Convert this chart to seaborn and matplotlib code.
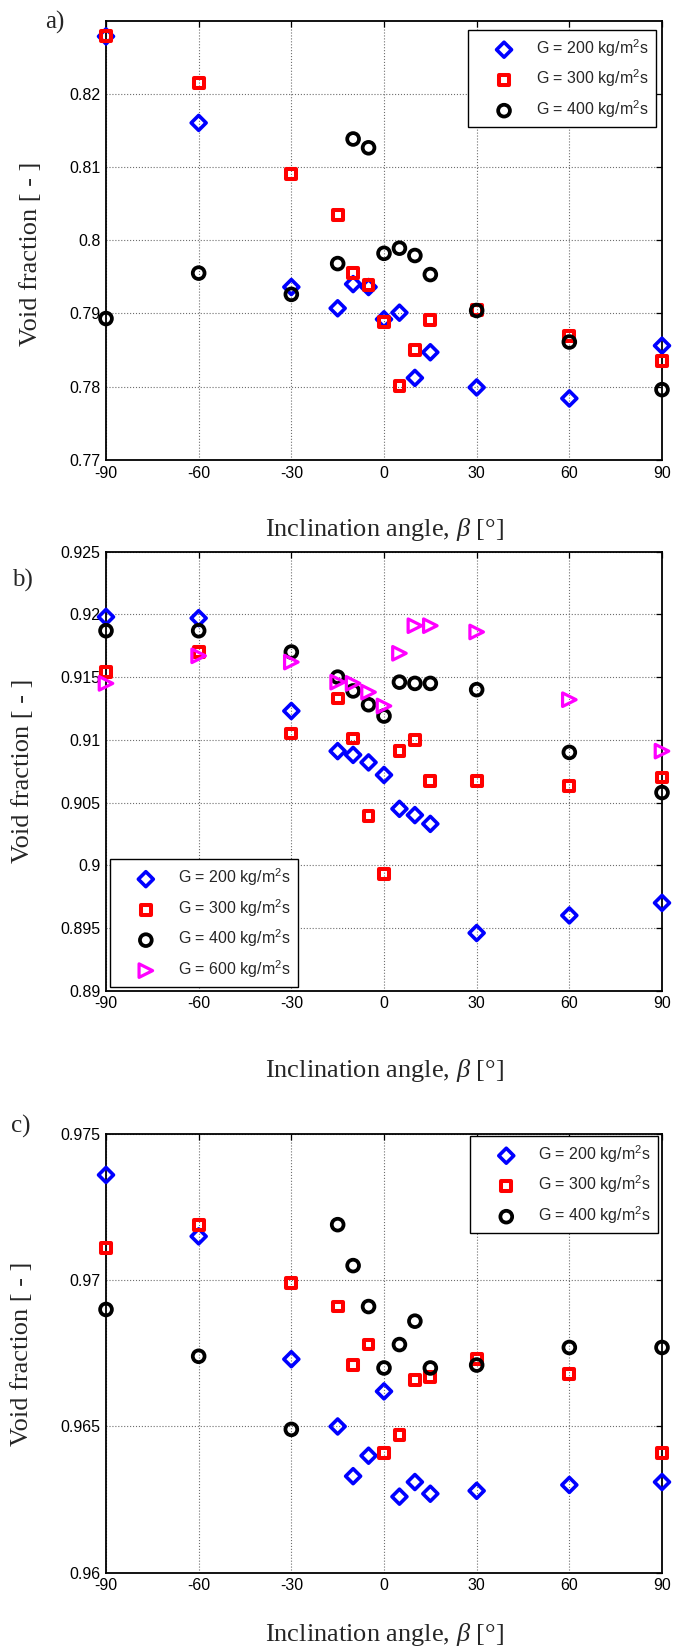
import matplotlib
matplotlib.use("Agg")
import matplotlib.pyplot as plt
import seaborn as sns
import pandas as pd

# ---------------- data ----------------
angles = [-90, -60, -30, -15, -10, -5, 0, 5, 10, 15, 30, 60, 90]

a_g200 = [0.8278, 0.8160, 0.7936, 0.7907, 0.7940, 0.7936, 0.7892, 0.7901, 0.7812, 0.7847, 0.7799, 0.7784, 0.7856]
a_g300 = [0.8278, 0.8214, 0.8090, 0.8034, 0.7955, 0.7939, 0.7888, 0.7801, 0.7850, 0.7891, 0.7905, 0.7869, 0.7835]
a_g400 = [0.7893, 0.7955, 0.7926, 0.7968, 0.8138, 0.8126, 0.7982, 0.7989, 0.7979, 0.7953, 0.7904, 0.7861, 0.7796]

b_g200 = [0.9198, 0.9197, 0.9123, 0.9091, 0.9088, 0.9082, 0.9072, 0.9045, 0.9040, 0.9033, 0.8946, 0.8960, 0.8970]
b_g300 = [0.9154, 0.9170, 0.9105, 0.9133, 0.9101, 0.9039, 0.8993, 0.9091, 0.9100, 0.9067, 0.9067, 0.9063, 0.9070]
b_g400 = [0.9187, 0.9187, 0.9170, 0.9150, 0.9139, 0.9128, 0.9119, 0.9146, 0.9145, 0.9145, 0.9140, 0.9090, 0.9058]
b_g600 = [0.9145, 0.9167, 0.9162, 0.9146, 0.9145, 0.9138, 0.9127, 0.9169, 0.9191, 0.9191, 0.9186, 0.9132, 0.9091]

c_g200 = [0.9736, 0.9715, 0.9673, 0.9650, 0.9633, 0.9640, 0.9662, 0.9626, 0.9631, 0.9627, 0.9628, 0.9630, 0.9631]
c_g300 = [0.9711, 0.9719, 0.9699, 0.9691, 0.9671, 0.9678, 0.9641, 0.9647, 0.9666, 0.9667, 0.9673, 0.9668, 0.9641]
c_g400 = [0.9690, 0.9674, 0.9649, 0.9719, 0.9705, 0.9691, 0.9670, 0.9678, 0.9686, 0.9670, 0.9671, 0.9677, 0.9677]

series_labels = ["G = 200 kg/m$^2$s", "G = 300 kg/m$^2$s", "G = 400 kg/m$^2$s", "G = 600 kg/m$^2$s"]

xticks = [-90, -60, -30, 0, 30, 60, 90]
xtick_labels = ["-90", "-60", "-30", "0", "30", "60", "90"]

a_yticks = [0.77, 0.78, 0.79, 0.80, 0.81, 0.82]
a_ylabels = ["0.77", "0.78", "0.79", "0.8", "0.81", "0.82"]
b_yticks = [0.89, 0.895, 0.90, 0.905, 0.91, 0.915, 0.92, 0.925]
b_ylabels = ["0.89", "0.895", "0.9", "0.905", "0.91", "0.915", "0.92", "0.925"]
c_yticks = [0.96, 0.965, 0.97, 0.975]
c_ylabels = ["0.96", "0.965", "0.97", "0.975"]

panel_letters = ["a)", "b)", "c)"]
xlabel_text = r"Inclination angle, $\mathit{\beta}$ [°]"
ylabel_text = "Void fraction [ - ]"

# ---------------- style ----------------
sns.set_style("white")
plt.rcParams["font.family"] = ["Liberation Sans", "DejaVu Sans"]
plt.rcParams["mathtext.fontset"] = "custom"
plt.rcParams["mathtext.rm"] = "Liberation Sans"
plt.rcParams["mathtext.it"] = "Liberation Serif:italic"
plt.rcParams["mathtext.default"] = "rm"

SERIF = ["Liberation Serif", "DejaVu Serif"]

styles = [
    dict(marker="D", color="#0000FF", s=58, lw=2.6),
    dict(marker="s", color="#FF0000", s=50, lw=2.9),
    dict(marker="o", color="#000000", s=72, lw=2.7),
    dict(marker=">", color="#FF00FF", s=95, lw=2.3),
]

fig = plt.figure(figsize=(6.73, 16.52), dpi=100)
W, H = 673.0, 1652.0

def axes_rect(left, right, top, bottom):
    return [left / W, (H - bottom) / H, (right - left) / W, (bottom - top) / H]

panels = [
    dict(rect=axes_rect(106, 662, 21, 460), series=[a_g200, a_g300, a_g400],
         ylim=(0.77, 0.8299), yticks=a_yticks, ylabels=a_ylabels,
         legend=dict(loc="upper right", bbox_to_anchor=(0.989, 0.9795)),
         letter_xy=(55, 22), ylab_x=-0.134, ylab_y=0.47, xlab_y=-0.159),
    dict(rect=axes_rect(106, 662, 551.7, 990.7), series=[b_g200, b_g300, b_g400, b_g600],
         ylim=(0.89, 0.925), yticks=b_yticks, ylabels=b_ylabels,
         legend=dict(loc="lower left", bbox_to_anchor=(0.007, 0.0084)),
         letter_xy=(22, 580), ylab_x=-0.15, ylab_y=0.5, xlab_y=-0.181),
    dict(rect=axes_rect(106, 662, 1134, 1572.7), series=[c_g200, c_g300, c_g400],
         ylim=(0.96, 0.975), yticks=c_yticks, ylabels=c_ylabels,
         legend=dict(loc="upper right", bbox_to_anchor=(0.993, 0.9954)),
         letter_xy=(21, 1126), ylab_x=-0.151, ylab_y=0.5, xlab_y=-0.142),
]

for i, p in enumerate(panels):
    ax = fig.add_axes(p["rect"])
    for j, vals in enumerate(p["series"]):
        st = styles[j]
        df = pd.DataFrame({"angle": angles, "vf": vals})
        sns.scatterplot(data=df, x="angle", y="vf", ax=ax,
                        marker=st["marker"], s=st["s"],
                        facecolor="none", edgecolor=st["color"],
                        linewidth=st["lw"], clip_on=False, zorder=3 + j,
                        label=series_labels[j])
    ax.set_xlim(-90, 90)
    ax.set_ylim(*p["ylim"])
    ax.set_xticks(xticks)
    ax.set_xticklabels(xtick_labels)
    ax.set_yticks(p["yticks"])
    ax.set_yticklabels(p["ylabels"])
    ax.set_axisbelow(True)
    ax.grid(True, linestyle=":", color="#6e6e6e", linewidth=0.8)
    ax.tick_params(direction="in", top=True, right=True, length=4, width=0.9,
                   labelsize=11.5, pad=4, colors="black")
    for sp in ax.spines.values():
        sp.set_color("black")
        sp.set_linewidth(1.3)
        sp.set_visible(True)

    ax.set_xlabel(xlabel_text, fontsize=19, family=SERIF)
    ax.xaxis.label.set_va("center")
    ax.xaxis.set_label_coords(0.5, p["xlab_y"])
    ax.set_ylabel(ylabel_text, fontsize=19, family=SERIF)
    ax.yaxis.label.set_va("center")
    ax.yaxis.set_label_coords(p["ylab_x"], p["ylab_y"])

    leg = ax.legend(fontsize=11.5, frameon=True, fancybox=False, framealpha=1,
                    edgecolor="black", borderaxespad=0, borderpad=0.45,
                    handlelength=3.6, handletextpad=0.2, labelspacing=0.55,
                    scatterpoints=1, **p["legend"])
    leg.get_frame().set_linewidth(1.0)
    leg.set_zorder(10)

    lx, ly = p["letter_xy"]
    fig.text(lx / W, (H - ly) / H, panel_letters[i], fontsize=18, family=SERIF,
             ha="center", va="center")

fig.savefig("out.png", dpi=100)
